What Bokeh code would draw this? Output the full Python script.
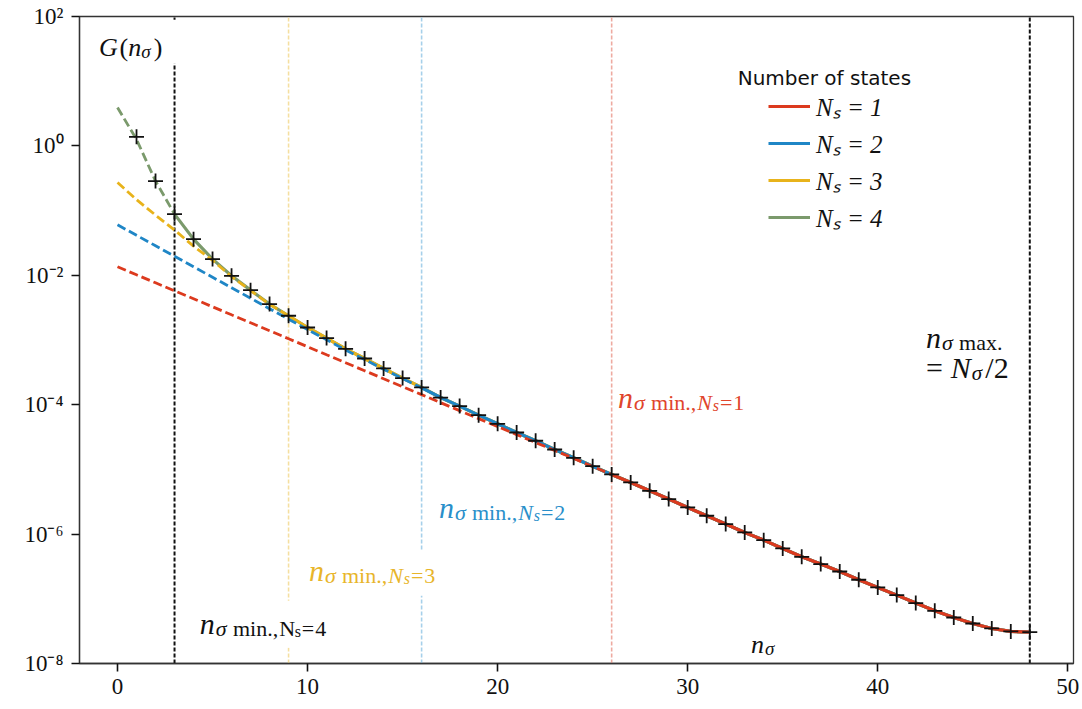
from bokeh.plotting import figure
from bokeh.models import (Range1d, FixedTicker, CustomJSTickFormatter, Label,
                          Legend, LegendItem, BoxAnnotation)
from bokeh.embed import file_html
from bokeh.resources import INLINE

# ---------------------------------------------------------------- data
N_SIGMA = list(range(0, 49))          # n_sigma = 0 .. N_sigma/2
N_CROSS = list(range(1, 49))          # points of the exact sum

# exact G(n_sigma), n_sigma = 1 .. 48
G_EXACT = [1.38, 0.286, 0.0883, 0.0362, 0.0178, 0.00982, 0.00590, 0.00359,
           0.00237, 0.00156, 0.00107, 7.31e-4, 5.18e-4, 3.63e-4, 2.58e-4,
           1.85e-4, 1.29e-4, 9.51e-5, 6.90e-5, 5.07e-5, 3.72e-5, 2.77e-5,
           2.03e-5, 1.51e-5, 1.12e-5, 8.36e-6, 6.28e-6, 4.67e-6, 3.48e-6,
           2.58e-6, 1.92e-6, 1.43e-6, 1.06e-6, 8.07e-7, 6.00e-7, 4.46e-7,
           3.44e-7, 2.64e-7, 1.97e-7, 1.50e-7, 1.14e-7, 8.59e-8, 6.53e-8,
           5.14e-8, 4.15e-8, 3.48e-8, 3.13e-8, 3.05e-8]

# truncated expansions: values from n_sigma = 0 until they join the exact sum
HEAD_NS1 = [0.01352, 0.01017, 0.00766, 0.00576, 0.00434, 0.00326, 0.00245,
            0.00185, 0.00139, 0.001046, 7.87e-4, 5.92e-4, 4.46e-4, 3.35e-4,
            2.52e-4, 1.90e-4, 1.43e-4, 1.075e-4, 8.09e-5, 6.09e-5, 4.58e-5,
            3.45e-5, 2.60e-5, 1.96e-5, 1.48e-5, 1.11e-5, 8.32e-6]
HEAD_NS2 = [0.0603, 0.0415, 0.0286, 0.0197, 0.01355, 0.00933, 0.00643,
            0.00443, 0.00305, 0.00210, 0.00145, 0.00101, 7.0e-4, 4.99e-4,
            3.53e-4, 2.53e-4, 1.83e-4]
HEAD_NS3 = [0.272, 0.148, 0.0851, 0.0501, 0.0282, 0.0170, 0.00955, 0.00582,
            0.00355]
HEAD_NS4 = [3.93, 1.26]

STATES = [1, 2, 3, 4]
N_MIN = [26, 16, 9, 3]
N_MAX = 48
HEADS = [HEAD_NS1, HEAD_NS2, HEAD_NS3, HEAD_NS4]

LINE_COLORS = ["#dc3a1e", "#1f86c6", "#e8b31b", "#7b9a6c"]
TEXT_COLORS = ["#e0452c", "#2a8fca", "#e8b52a", "#111111"]
VLINE_COLORS = ["#eeaaa0", "#a6d0ea", "#f5dfa0", "#111111"]

SERIF = "Liberation Serif"

# ---------------------------------------------------------------- figure
p = figure(width=1082, height=709, output_backend="svg", toolbar_location=None,
           y_axis_type="log", x_range=Range1d(-2.0, 50.3),
           y_range=Range1d(1e-8, 1e2))
p.min_border_left = 79
p.min_border_right = 9
p.min_border_top = 16
p.min_border_bottom = 46
p.background_fill_color = "white"
p.border_fill_color = "white"
p.outline_line_color = "#333333"
p.outline_line_width = 1.3
p.grid.visible = False

p.xaxis.ticker = FixedTicker(ticks=[0, 10, 20, 30, 40, 50], minor_ticks=[])
p.yaxis.ticker = FixedTicker(ticks=[1e-8, 1e-6, 1e-4, 1e-2, 1, 1e2], minor_ticks=[])
p.yaxis.formatter = CustomJSTickFormatter(code="""
const sup = {"-": "⁻", "0": "⁰", "1": "¹", "2": "²", "3": "³", "4": "⁴",
             "5": "⁵", "6": "⁶", "7": "⁷", "8": "⁸", "9": "⁹"};
const e = Math.round(Math.log10(tick));
return "10" + String(e).split("").map((c) => sup[c]).join("");
""")
for ax in (p.xaxis, p.yaxis):
    ax.axis_line_color = "#333333"
    ax.axis_line_width = 1.3
    ax.major_tick_line_color = "#111111"
    ax.major_tick_line_width = 1.6
    ax.major_tick_in = 0
    ax.major_tick_out = 8
    ax.minor_tick_out = 0
    ax.minor_tick_in = 0
    ax.major_label_text_font = SERIF
    ax.major_label_text_font_size = "23px"
    ax.major_label_text_color = "#111111"
p.xaxis.major_label_standoff = 7
p.yaxis.major_label_standoff = 8

# vertical markers at n_sigma,min for each N_s and at n_sigma,max
for nm, col in zip(N_MIN[:3], VLINE_COLORS[:3]):
    p.segment(x0=[nm], y0=[1e-8], x1=[nm], y1=[1e2], line_color=col,
              line_width=1.6, line_dash="4 2")
p.segment(x0=[N_MIN[3], N_MAX], y0=[1e-8, 1e-8], x1=[N_MIN[3], N_MAX],
          y1=[1e2, 1e2], line_color="#111111", line_width=2, line_dash="4 2")

# curves: dashed below n_sigma,min, solid above; N_s = 4 drawn first
solid = {}
for k in [3, 2, 1, 0]:
    head, nm, col = HEADS[k], N_MIN[k], LINE_COLORS[k]
    curve = head + G_EXACT[len(head) - 1:]
    p.line(N_SIGMA[:nm + 1], curve[:nm + 1], line_color=col, line_width=2.8,
           line_dash="9 4")
    solid[k] = p.line(N_SIGMA[nm:], curve[nm:], line_color=col, line_width=3.2)

p.scatter(N_CROSS, G_EXACT, marker="cross", size=15, line_width=1.8,
          line_color="#111111")

# ---------------------------------------------------------------- legend
legend = Legend(items=[LegendItem(label=f"Nₛ = {s}", renderers=[solid[k]])
                       for k, s in enumerate(STATES)],
                location=(689, 429), glyph_width=42, glyph_height=34,
                label_height=34, spacing=3, padding=0, margin=0,
                label_standoff=6, border_line_alpha=0, background_fill_alpha=0,
                label_text_font=SERIF, label_text_font_style="italic",
                label_text_font_size="25px", label_text_color="#111111")
p.add_layout(legend)
p.add_layout(Label(x=32.63, y=11.4, text="Number of states",
                   text_font="DejaVu Sans", text_font_size="20px",
                   text_color="#111111", text_baseline="alphabetic"))

# ---------------------------------------------------------------- annotations
# white boxes behind some labels, hiding the marker lines beneath them
for l, r, b, t in [(-1.5, 3.25, 18.6, 89.1),
                   (3.8, 11.6, 1.75e-8, 9.31e-8),
                   (9.55, 17.45, 1.11e-7, 5.52e-7)]:
    p.add_layout(BoxAnnotation(left=l, right=r, bottom=b, top=t,
                               fill_color="white", fill_alpha=1.0,
                               line_alpha=0))

# advance widths (em) of the serif face
WIDTH = {"G": 0.72, "(": 0.33, ")": 0.33, "n": 0.5, "σ": 0.55, "N": 0.70,
         "s": 0.39, "m": 0.78, "i": 0.28, ".": 0.25, ",": 0.25, "=": 0.56,
         "a": 0.44, "x": 0.5, "/": 0.28, "1": 0.5, "2": 0.5, "3": 0.5,
         "4": 0.5}


def math_label(x, y, pieces, color):
    """Place a run of text pieces; each piece is (text, size, italic, dy) or a gap."""
    dx = 0.0
    for piece in pieces:
        if isinstance(piece, (int, float)):
            dx += piece
            continue
        text, size, italic, dy = piece
        p.add_layout(Label(x=x, y=y, x_offset=dx, y_offset=dy, text=text,
                           text_font=SERIF, text_font_size=f"{size}px",
                           text_font_style="italic" if italic else "normal",
                           text_color=color, text_baseline="alphabetic",
                           text_align="left"))
        dx += sum(WIDTH.get(c, 0.5) for c in text) * size


math_label(-0.98, 32.8, [("G", 26, True, 0), 2, ("(", 26, False, 0),
                         ("n", 26, True, 0), ("σ", 19, True, -4), 2,
                         (")", 26, False, 0)], "#111111")

MIN_POS = [(26.33, 1.28e-4), (16.91, 2.55e-6), (10.07, 2.71e-7), (4.33, 4.11e-8)]
for k, s in enumerate(STATES):
    x, y = MIN_POS[k]
    upright = k == 3
    math_label(x, y, [("n", 30, True, 0), 1, ("σ", 22, True, -5), 5,
                      ("min.,", 22, False, -5), 1, ("N", 22, not upright, -5),
                      ("s", 16, not upright, -8), 1, ("=", 22, False, -5), 1,
                      (str(s), 22, False, -5)],
               TEXT_COLORS[k])

math_label(42.54, 1.08e-3, [("n", 30, True, 0), 1, ("σ", 22, True, -5), 5,
                            ("max.", 22, False, -5)], "#111111")
math_label(42.54, 3.72e-4, [("=", 30, False, 0), 8, ("N", 30, True, 0),
                            ("σ", 21, True, -5), 2, ("/2", 30, False, 0)],
           "#111111")
math_label(33.33, 1.95e-8, [("n", 26, True, 0), 1, ("σ", 19, True, -4)],
           "#111111")

open("out.html", "w").write(file_html(p, INLINE))
